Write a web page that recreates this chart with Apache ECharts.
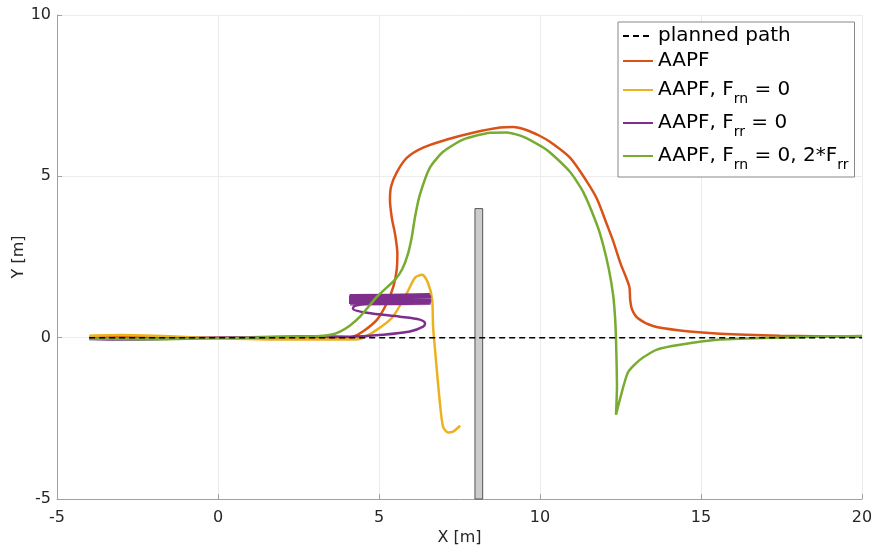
<!DOCTYPE html>
<html><head><meta charset="utf-8">
<script src="https://cdn.jsdelivr.net/npm/echarts@6/dist/echarts.min.js"></script>
<style>html,body{margin:0;padding:0;background:#fff;overflow:hidden}#c{width:871px;height:547px}</style>
</head><body><div id="c"></div>
<script>
const xTicks = [-5, 0, 5, 10, 15, 20];
const yTicks = [-5, 0, 5, 10];
const seriesNames = ['planned path', 'AAPF', 'AAPF, F_rn = 0', 'AAPF, F_rr = 0', 'AAPF, F_rn = 0, 2*F_rr'];
const seriesColors = ['#000000', '#D95319', '#EDB120', '#7E2F8E', '#77AC30'];

const plannedPath = [[-4, 0], [20, 0]];

const aapf = [[-4,0.0],[-3,0.02],[-2,0.01],[-1,-0.01],[0,0.0],[1,-0.01],[2,0.0],[3,0.0],[3.8,0.0],
  [4.19,0.03],[4.5,0.19],[4.94,0.56],[5.25,1.08],[5.45,1.6],[5.55,2.11],[5.57,2.6],[5.5,3.2],
  [5.4,3.7],[5.34,4.28],[5.38,4.7],[5.56,5.14],[5.87,5.58],[6.37,5.89],[7.11,6.14],[7.92,6.35],
  [8.76,6.51],[9.16,6.53],[9.6,6.43],[10.0,6.25],[10.31,6.07],[10.93,5.58],[11.46,4.83],[11.77,4.3],
  [12.08,3.5],[12.27,3.0],[12.5,2.3],[12.68,1.85],[12.78,1.55],[12.8,1.18],[12.86,0.87],[13.04,0.6],[13.51,0.36],
  [14.35,0.22],[15.59,0.12],[17.45,0.06],[20,0.03]];

const aapfFrn0 = [[-4,0.06],[-3,0.08],[-2,0.06],[-1,0.02],[0,-0.02],[1,-0.04],[2,-0.06],[3,-0.06],[4.0,-0.06],
  [4.4,-0.04],[4.94,0.25],[5.43,0.65],[5.87,1.39],[6.12,1.86],[6.34,1.95],[6.52,1.7],[6.65,1.18],
  [6.68,0.34],[6.74,-0.37],[6.89,-2.01],[6.99,-2.76],[7.14,-2.94],[7.3,-2.91],[7.52,-2.73]];

const aapfFrr0Path = [[-4,-0.04],[-3,-0.06],[-2,-0.05],[-1,-0.02],[0,0],[1,0.01],[2,0.03],[3,0.04],[4.1,0.03],
  [5.12,0.09],[5.96,0.19],[6.37,0.34],[6.43,0.45],[6.27,0.56],[5.65,0.65],[4.63,0.77],[4.19,0.9],
  [4.25,0.99],[5.12,1.08],[5.96,1.08],[6.6,1.1]];

const aapfFrr0Band = [[6.6,1.1],[4.1,1.12],[6.62,1.15],[4.08,1.18],[6.6,1.22],[4.07,1.25],[6.6,1.28],[4.1,1.31],
  [6.58,1.32],[4.08,1.29],[6.62,1.26],[4.07,1.23],[6.6,1.2],[4.08,1.16],[6.62,1.13],[4.07,1.09],[6.6,1.06],
  [4.1,1.04],[6.6,1.07],[4.08,1.11],[6.62,1.14],[4.07,1.17],[6.6,1.21],[4.08,1.24],[6.6,1.27],[4.1,1.3],
  [6.58,1.24],[4.1,1.19],[6.6,1.16],[4.12,1.12],[6.6,1.09],[4.15,1.14],[6.55,1.2]];

const aapfFrn0Frr2 = [[-4,-0.03],[-3,-0.04],[-2,-0.05],[-1,-0.03],[0,-0.02],[1,0.0],[2,0.02],[3,0.04],[3.5,0.09],
  [3.79,0.19],[4.1,0.38],[4.41,0.65],[4.94,1.27],[5.5,1.8],[5.72,2.12],[5.9,2.6],[6.02,3.13],[6.12,3.75],
  [6.27,4.43],[6.58,5.27],[6.99,5.76],[7.61,6.14],[8.45,6.35],[8.98,6.36],[9.47,6.23],[10.0,5.95],[10.31,5.74],
  [10.93,5.14],[11.34,4.52],[11.77,3.5],[11.96,2.88],[12.14,2.11],[12.27,1.33],[12.33,0.65],[12.36,-0.06],[12.39,-1.52],
  [12.36,-2.39],[12.48,-1.92],[12.73,-1.08],[13.11,-0.68],[13.63,-0.37],[14.35,-0.22],[15.59,-0.06],
  [17.45,0.0],[20,0.05]];

const obstacle = [[7.98, 8.22, -5, 4]];

const FONT = 'DejaVu Sans';
const chart = echarts.init(document.getElementById('c'), null, {renderer: 'canvas', width: 871, height: 547});

function lineSeries(name, data, color, extra) {
  return Object.assign({
    type: 'line', name: name, data: data, showSymbol: false, symbol: 'none',
    lineStyle: {color: color, width: 2.5}, itemStyle: {color: color},
    smooth: 0.3, z: 3, animation: false, silent: true
  }, extra || {});
}

const axisText = {fontFamily: FONT, fontSize: 16, color: '#262626'};

const option = {
  animation: false,
  backgroundColor: '#fff',
  grid: {left: 57, right: 9, top: 15, bottom: 48, containLabel: false, outerBoundsMode: 'none'},
  xAxis: {
    type: 'value', min: xTicks[0], max: xTicks[xTicks.length - 1], interval: xTicks[1] - xTicks[0],
    name: 'X [m]', nameLocation: 'middle', nameGap: 31, nameMoveOverlap: false, nameTextStyle: axisText,
    axisLine: {show: true, onZero: false, lineStyle: {color: '#a0a0a0', width: 1}},
    axisTick: {show: true, inside: true, length: 5, lineStyle: {color: '#a0a0a0'}},
    axisLabel: Object.assign({margin: 11}, axisText),
    splitLine: {show: true, lineStyle: {color: '#ececec', width: 1}}
  },
  yAxis: {
    type: 'value', min: yTicks[0], max: yTicks[yTicks.length - 1], interval: yTicks[1] - yTicks[0],
    name: 'Y [m]', nameLocation: 'middle', nameGap: 30, nameMoveOverlap: false, nameRotate: 90, nameTextStyle: axisText,
    axisLine: {show: true, onZero: false, lineStyle: {color: '#a0a0a0', width: 1}},
    axisTick: {show: true, inside: true, length: 5, lineStyle: {color: '#a0a0a0'}},
    axisLabel: Object.assign({margin: 6}, axisText),
    splitLine: {show: true, lineStyle: {color: '#ececec', width: 1}}
  },
  legend: {
    left: 618, top: 22, orient: 'vertical', data: seriesNames,
    itemWidth: 30, itemHeight: 2, itemGap: 1, padding: [2, 6, 5, 4],
    backgroundColor: '#fff', borderColor: '#888', borderWidth: 1, borderRadius: 0,
    selectedMode: false,
    itemStyle: {opacity: 0},
    textStyle: {fontFamily: FONT, fontSize: 20, color: '#000', lineHeight: 24,
      rich: {s: {fontFamily: FONT, fontSize: 14, lineHeight: 14, color: '#000', padding: [18, 0, 0, 0]}}},
    formatter: function (n) { return n.replace(/_(\w+)/g, '{s|$1}'); }
  },
  series: [
    {
      type: 'custom', name: 'obstacle', data: obstacle, z: 1, silent: true,
      encode: {x: [0, 1], y: [2, 3]},
      renderItem: function (params, api) {
        const p0 = api.coord([api.value(0), api.value(3)]);
        const p1 = api.coord([api.value(1), api.value(2)]);
        return {type: 'rect', shape: {x: p0[0], y: p0[1], width: p1[0] - p0[0], height: p1[1] - p0[1]},
          style: {fill: '#cccccc', stroke: '#555555', lineWidth: 1}};
      }
    },
    lineSeries(seriesNames[0], plannedPath, seriesColors[0], {smooth: false, z: 4,
      lineStyle: {color: seriesColors[0], width: 1.5, type: [6, 4]}}),
    lineSeries(seriesNames[1], aapf, seriesColors[1]),
    lineSeries(seriesNames[2], aapfFrn0, seriesColors[2], {smooth: 0.25}),
    lineSeries(seriesNames[3], aapfFrr0Path, seriesColors[3], {smooth: 0.3}),
    lineSeries(seriesNames[3], aapfFrr0Band, seriesColors[3], {smooth: false, lineStyle: {color: seriesColors[3], width: 3}}),
    lineSeries(seriesNames[4], aapfFrn0Frr2, seriesColors[4], {smooth: 0.2})
  ]
};
chart.setOption(option);
</script>
</body></html>
